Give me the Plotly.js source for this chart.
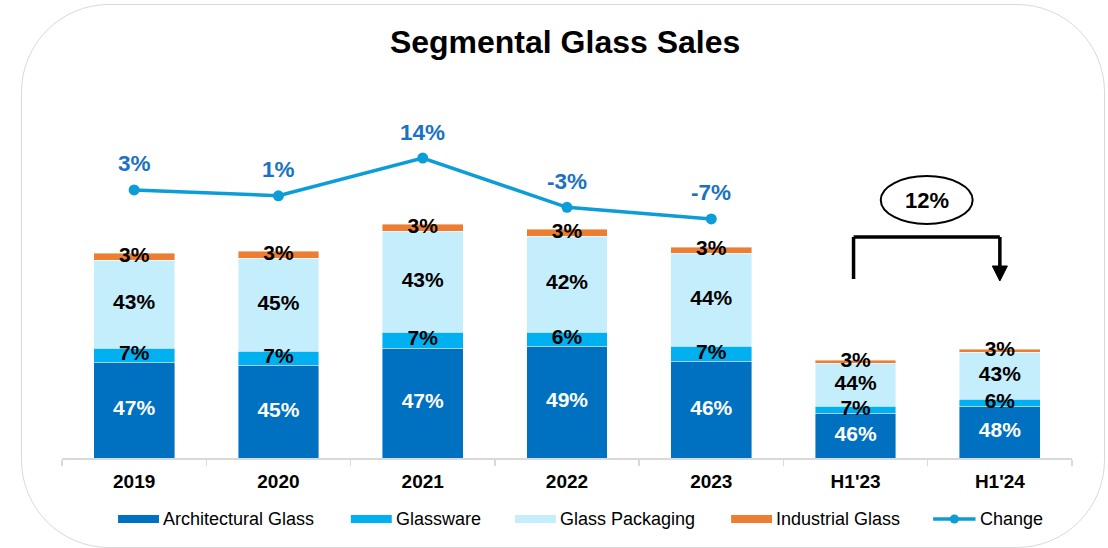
<!DOCTYPE html>
<html>
<head>
<meta charset="utf-8">
<script src="https://cdn.plot.ly/plotly-3.0.1.min.js"></script>
<style>
  html, body { margin: 0; padding: 0; background: #ffffff; }
  #wrap { position: relative; width: 1108px; height: 548px; overflow: hidden; }
  #frame { position: absolute; left: 21px; top: 4px; width: 1084px; height: 544px;
           border: 1.5px solid #d9d9d9; border-radius: 88px; box-sizing: border-box; }
  #chart { position: absolute; left: 0; top: 0; width: 1108px; height: 548px; }
</style>
</head>
<body>
<div id="wrap">
  <div id="frame"></div>
  <div id="chart"></div>
</div>
<script>
// ---- data ----
const categories = ['2019', '2020', '2021', '2022', '2023', "H1'23", "H1'24"];
const architectural = [96, 93, 110, 112, 97, 45, 52];
const glassware     = [14, 14, 16, 14, 15, 7, 7];
const packaging     = [88, 93, 101, 96, 93, 43, 47];
const industrial    = [7, 7, 7, 7, 6, 3, 3];

const architecturalLabels = ['47%', '45%', '47%', '49%', '46%', '46%', '48%'];
const glasswareLabels     = ['7%', '7%', '7%', '6%', '7%', '7%', '6%'];
const packagingLabels     = ['43%', '45%', '43%', '42%', '44%', '44%', '43%'];
const industrialLabels    = ['3%', '3%', '3%', '3%', '3%', '3%', '3%'];

const changeCategories = ['2019', '2020', '2021', '2022', '2023'];
const changeValues = [3, 1, 14, -3, -7];
const changeLabels = ['3%', '1%', '14%', '-3%', '-7%'];

const halfYearGrowthLabel = '12%';

const seriesNames = ['Architectural Glass', 'Glassware', 'Glass Packaging', 'Industrial Glass', 'Change'];

// ---- styling ----
const FONT = '"Liberation Sans", Arial, Helvetica, sans-serif';
const COLORS = ['#0070C0', '#00B0F0', '#C5EEFC', '#ED7D31', '#0C9DD8'];
const TEXTCOL = ['#ffffff', '#000000', '#000000', '#000000'];
const segLine = { color: 'rgba(255,255,255,0.7)', width: 0.6 };

const segValues = [architectural, glassware, packaging, industrial];
const segLabels = [architecturalLabels, glasswareLabels, packagingLabels, industrialLabels];

const traces = [];
// stacked bars
segValues.forEach((vals, k) => {
  traces.push({
    type: 'bar', name: seriesNames[k], x: categories, y: vals,
    marker: { color: COLORS[k], line: segLine },
    hoverinfo: 'skip', showlegend: false
  });
});
// segment labels, drawn above every bar (centre of each stacked segment)
segValues.forEach((vals, k) => {
  const mids = vals.map((v, i) => {
    let base = 0;
    for (let j = 0; j < k; j++) base += segValues[j][i];
    return base + v / 2;
  });
  traces.push({
    type: 'scatter', mode: 'text', x: categories, y: mids, text: segLabels[k],
    textposition: 'middle center',
    textfont: { family: FONT, size: 21, color: TEXTCOL[k], weight: 'bold' },
    hoverinfo: 'skip', showlegend: false, cliponaxis: false
  });
});
// change line
traces.push({
  type: 'scatter', mode: 'lines+markers', name: seriesNames[4],
  x: changeCategories, y: changeValues, yaxis: 'y2',
  line: { color: COLORS[4], width: 3.5 },
  marker: { color: COLORS[4], size: 11 },
  hoverinfo: 'skip', showlegend: false, cliponaxis: false
});

const annotations = changeCategories.map((c, i) => ({
  x: categories.indexOf(c), y: changeValues[i], xref: 'x', yref: 'y2',
  text: changeLabels[i], showarrow: false, yshift: 26, xanchor: 'center', yanchor: 'middle',
  font: { family: FONT, size: 22.5, color: '#1B72C2', weight: 'bold' }
}));

// growth callout between the two half-year bars (paper coords from category slots)
const nCat = categories.length;
const px = (i) => (i + 0.5) / nCat;
const xA = px(categories.indexOf("H1'23")) - 0.002;
const xB = px(categories.indexOf("H1'24"));
const xMid = (xA + xB) / 2;
const tri = 0.0075;

annotations.push({
  x: xMid, y: 258, xref: 'paper', yref: 'y', text: halfYearGrowthLabel, showarrow: false,
  xanchor: 'center', yanchor: 'middle',
  font: { family: FONT, size: 22, color: '#000000', weight: 'bold' }
});

const blk = { color: '#000000', width: 3.5 };
const shapes = [
  { type: 'circle', xref: 'paper', yref: 'y', x0: xMid - 0.0455, x1: xMid + 0.0455, y0: 234, y1: 282,
    line: { color: '#000000', width: 2 }, fillcolor: 'rgba(0,0,0,0)' },
  { type: 'line', xref: 'paper', yref: 'y', x0: xA, x1: xA, y0: 179, y1: 221, line: blk },
  { type: 'line', xref: 'paper', yref: 'y', x0: xA, x1: xB, y0: 221, y1: 221, line: blk },
  { type: 'line', xref: 'paper', yref: 'y', x0: xB, x1: xB, y0: 221, y1: 190, line: blk },
  { type: 'path', xref: 'paper', yref: 'y',
    path: `M${xB - tri},192 L${xB + tri},192 L${xB},177 Z`,
    fillcolor: '#000000', line: { color: '#000000', width: 1 } }
];

// ---- custom legend (wide swatches like the original) ----
const legendY = -0.186;              // paper y of legend row
const legendSwatchX = [0.0555, 0.286, 0.4485, 0.6625, 0.8625]; // left edge of each swatch (paper)
const swW = 0.0405, swH = 0.0122;
seriesNames.forEach((name, k) => {
  const x0 = legendSwatchX[k];
  if (k < 4) {
    shapes.push({ type: 'rect', xref: 'paper', yref: 'paper', x0: x0, x1: x0 + swW,
      y0: legendY - swH, y1: legendY + swH, fillcolor: COLORS[k], line: { width: 0 } });
  } else {
    shapes.push({ type: 'line', xref: 'paper', yref: 'paper', x0: x0, x1: x0 + 0.042,
      y0: legendY, y1: legendY, line: { color: COLORS[4], width: 3.5 } });
    shapes.push({ type: 'circle', xref: 'paper', yref: 'paper',
      x0: x0 + 0.021 - 0.0045, x1: x0 + 0.021 + 0.0045, y0: legendY - 0.0137, y1: legendY + 0.0137,
      fillcolor: COLORS[4], line: { width: 0 } });
  }
  annotations.push({
    x: x0 + (k < 4 ? swW : 0.042) + 0.002, y: legendY, xref: 'paper', yref: 'paper',
    text: name, showarrow: false, xanchor: 'left', yanchor: 'middle',
    font: { family: FONT, size: 18, color: '#000000' }
  });
});

const layout = {
  width: 1108, height: 548,
  margin: { l: 62, r: 36, t: 130, b: 90, pad: 0 },
  paper_bgcolor: 'rgba(0,0,0,0)', plot_bgcolor: 'rgba(0,0,0,0)',
  font: { family: FONT, color: '#000000' },
  showlegend: false,
  title: {
    text: 'Segmental Glass Sales', xref: 'container', x: 0.51, xanchor: 'center',
    yref: 'container', y: 0.923, yanchor: 'middle',
    font: { family: FONT, size: 32, color: '#000000', weight: 'bold' }
  },
  barmode: 'stack', bargap: 0.44,
  xaxis: {
    type: 'category', categoryorder: 'array', categoryarray: categories,
    range: [-0.5, nCat - 0.5], autorange: false,
    showgrid: false, zeroline: false,
    showline: true, linecolor: '#d9d9d9', linewidth: 1.5,
    ticks: 'outside', tickson: 'boundaries', ticklen: 6, tickcolor: '#d9d9d9', tickwidth: 1.5,
    ticklabelstandoff: 6, tickangle: 0,
    tickfont: { family: FONT, size: 19, color: '#000000', weight: 'bold' }
  },
  yaxis: { range: [0, 328], visible: false, showgrid: false, zeroline: false, fixedrange: true },
  yaxis2: { range: [-89.5, 23.7], overlaying: 'y', side: 'right', visible: false,
            showgrid: false, zeroline: false },
  annotations: annotations,
  shapes: shapes,
  hovermode: false
};

Plotly.newPlot('chart', traces, layout, { displayModeBar: false, staticPlot: true });
</script>
</body>
</html>
